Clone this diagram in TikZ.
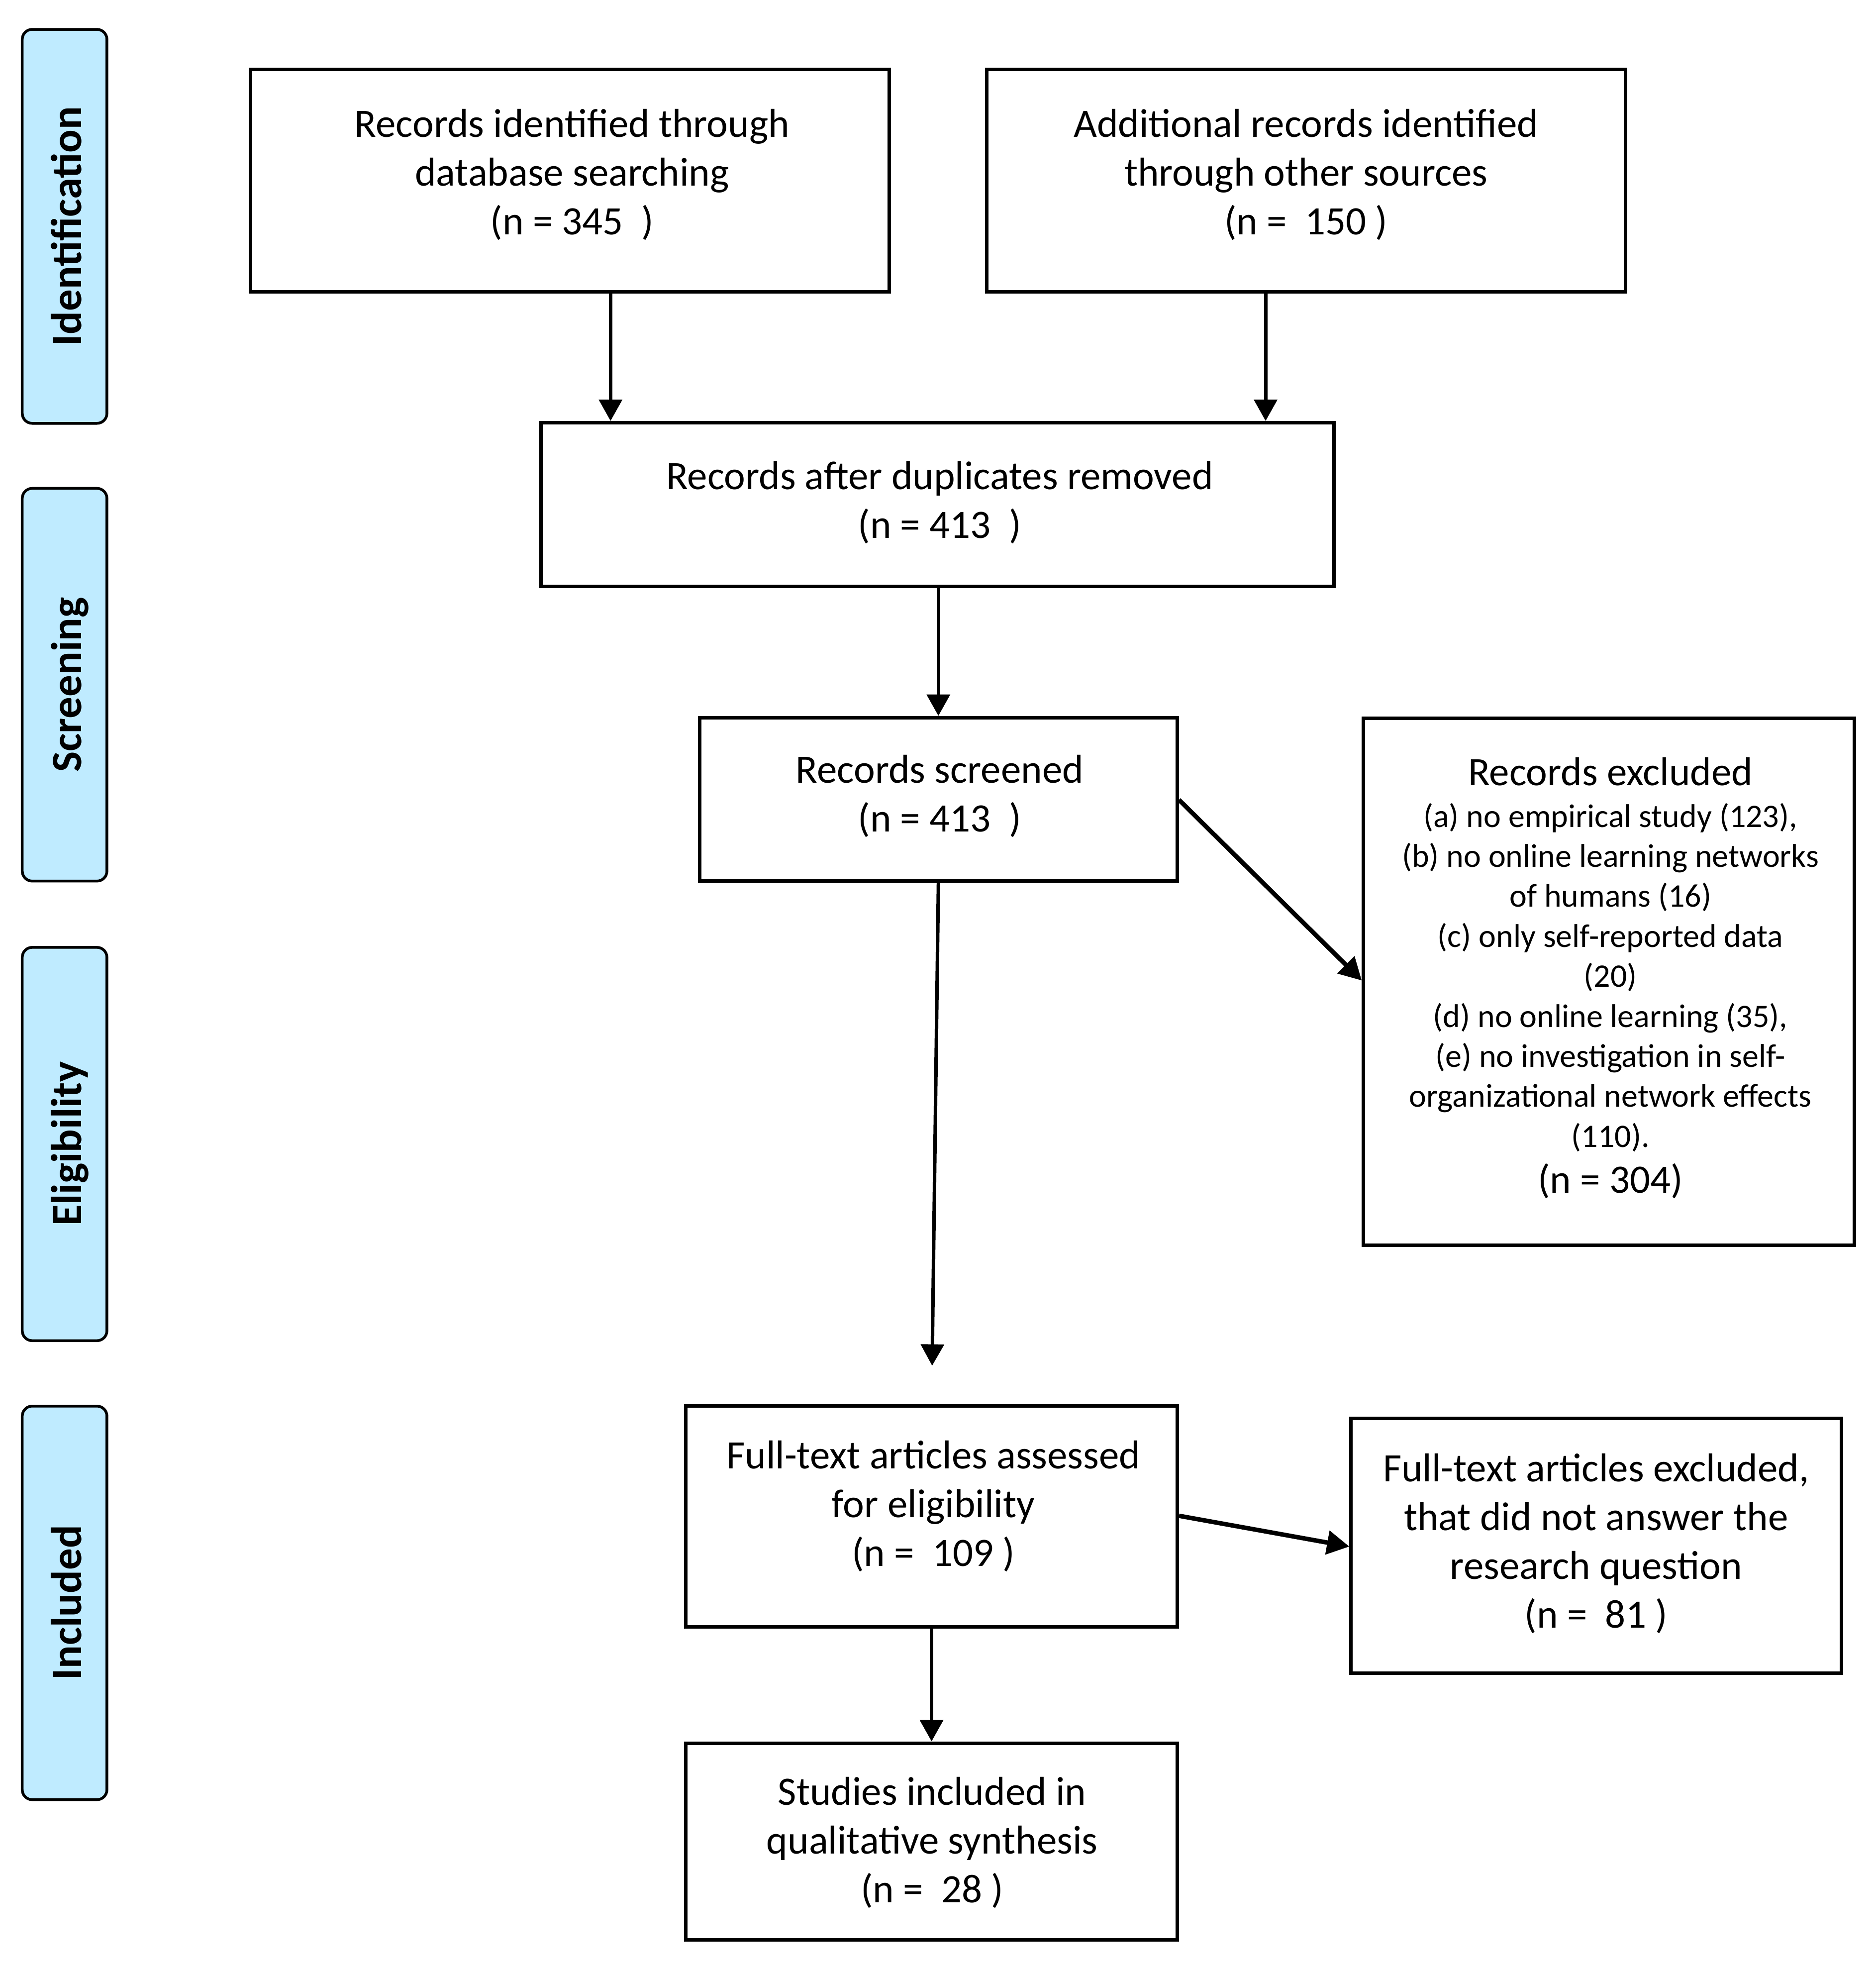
\documentclass[tikz,border=0pt]{standalone}
\usepackage{fontspec}
\setmainfont{Carlito}
\usetikzlibrary{arrows.meta,fit}
\definecolor{phase}{HTML}{BFEBFF}
\begin{document}
\begin{tikzpicture}[x=0.25133pt,y=-0.25133pt,
  box/.style={draw, line width=0.7pt, rectangle, inner sep=0pt},
  phasebox/.style={draw, line width=0.55pt, fill=phase, rounded corners=2pt, inner sep=0pt},
  txt/.style={align=center, inner sep=0pt, font=\fontsize{8.1}{9.8}\selectfont},
  smalltxt/.style={align=center, inner sep=0pt, font=\fontsize{6.6}{8.04}\selectfont},
  phasetxt/.style={rotate=90, anchor=base, inner sep=0pt, font=\fontsize{8.7}{10}\selectfont\bfseries},
  arr/.style={line width=0.7pt, -{Triangle[width=4.6pt,length=4.3pt]}},
  thickarr/.style={line width=0.9pt, -{Triangle[width=4.7pt,length=4.5pt]}},
]
\useasboundingbox (0,0) rectangle (1500,1573.6);

% phase labels
\node[phasebox, fit={(17.8,23.5) (85.5,338.5)}] (p1) {};
\node[phasebox, fit={(17.8,390.5) (85.5,704.5)}] (p2) {};
\node[phasebox, fit={(17.8,757.5) (85.5,1072)}] (p3) {};
\node[phasebox, fit={(17.8,1124.3) (85.5,1439)}] (p4) {};
\node[phasetxt] (p1t) at (65,181) {Identification};
\node[phasetxt] (p2t) at (65,547.5) {Screening};
\node[phasetxt] (p3t) at (65,914.7) {Eligibility};
\node[phasetxt] (p4t) at (65,1281.6) {Included};

% boxes
\node[box, fit={(200.5,55.7) (711,233.5)}] (b1) {};
\node[box, fit={(789,55.7) (1300,233.5)}] (b2) {};
\node[box, fit={(432.5,338) (1067,469)}] (b3) {};
\node[box, fit={(559.5,573.8) (941.5,704.5)}] (b4) {};
\node[box, fit={(1090.5,574.4) (1483,995.5)}] (b5) {};
\node[box, fit={(548.6,1124.3) (941.5,1301)}] (b6) {};
\node[box, fit={(1080.6,1134.2) (1472.8,1338)}] (b7) {};
\node[box, fit={(548.6,1393.8) (941.5,1551)}] (b8) {};

% texts
\node[txt] (t1) at (457.5,139.5) {Records identified through\\database searching\\(n = 345\ \ )};
\node[txt] (t2) at (1044.5,139.5) {Additional records identified\\through other sources\\(n = \ 150 )};
\node[txt] (t3) at (751.5,402) {Records after duplicates removed\\(n = 413\ \ )};
\node[txt] (t4) at (751.5,636.5) {Records screened\\(n = 413\ \ )};
\node[txt] (t5a) at (1288,617) {Records excluded};
\node[smalltxt] (t5b) at (1288,781.5) {(a) no empirical study (123),\\(b) no online learning networks\\of humans (16)\\(c) only self-reported data\\(20)\\(d) no online learning (35),\\(e) no investigation in self-\\organizational network effects\\(110).};
\node[txt] (t5c) at (1288,944.5) {(n = 304)};
\node[txt] (t6) at (746.5,1204.5) {Full-text articles assessed\\for eligibility\\(n = \ 109 )};
\node[txt] (t7) at (1276.5,1234) {Full-text articles excluded,\\that did not answer the\\research question\\(n = \ 81 )};
\node[txt] (t8) at (745.5,1473.5) {Studies included in\\qualitative synthesis\\(n = \ 28 )};

% helper coordinates
\coordinate (a1) at (488.3,0);
\coordinate (a2) at (1012.2,0);
\coordinate (e1) at (745.5,1092);
\coordinate (s1) at (0,639.5);
\coordinate (u1) at (0,784);
\coordinate (s2) at (0,1212);
\coordinate (u2) at (0,1236.6);

% connectors
\draw[arr] (b1.south -| a1) -- (b3.north -| a1);
\draw[arr] (b2.south -| a2) -- (b3.north -| a2);
\draw[arr] (b3.south -| b4.north) -- (b4.north);
\draw[arr] (b4.south) -- (e1);
\draw[thickarr] (b4.east |- s1) -- (b5.west |- u1);
\draw[thickarr] (b6.east |- s2) -- (b7.west |- u2);
\draw[arr] (b6.south) -- (b8.north);
\end{tikzpicture}
\end{document}
